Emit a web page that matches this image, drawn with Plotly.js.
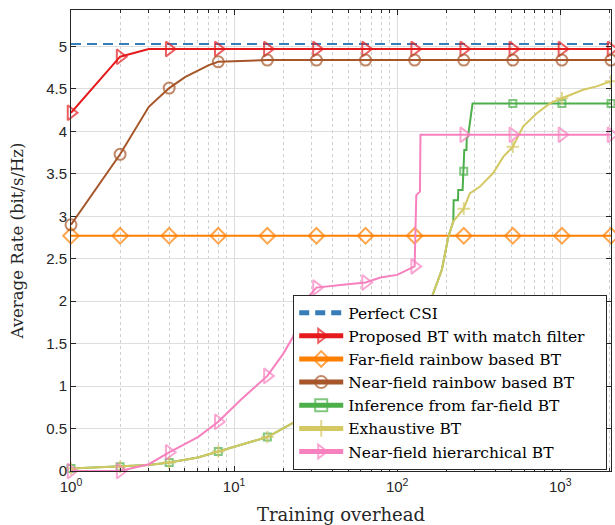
<!DOCTYPE html>
<html>
<head>
<meta charset="utf-8">
<script src="https://cdn.plot.ly/plotly-3.0.1.min.js"></script>
<style>html,body{margin:0;padding:0;background:#fff;}</style>
</head>
<body>
<div id="chart" style="width:615px;height:525px;"></div>
<script>
// ---- data ----
const csiX = [1, 2048];
const csiY = [5.03, 5.03];

const propX = [1, 2, 3, 4, 8, 16, 32, 64, 128, 256, 512, 1024, 2048];
const propY = [4.22, 4.88, 4.97, 4.97, 4.97, 4.97, 4.97, 4.97, 4.97, 4.97, 4.97, 4.97, 4.97];

const farX = [1, 2, 4, 8, 16, 32, 64, 128, 256, 512, 1024, 2048];
const farY = [2.77, 2.77, 2.77, 2.77, 2.77, 2.77, 2.77, 2.77, 2.77, 2.77, 2.77, 2.77];

const nearX = [1, 2, 3, 4, 5, 6, 7, 8, 16, 32, 64, 128, 256, 512, 1024, 2048];
const nearY = [2.90, 3.73, 4.29, 4.51, 4.64, 4.72, 4.78, 4.82, 4.84, 4.84, 4.84, 4.84, 4.84, 4.84, 4.84, 4.84];

const infX = [1, 2, 3, 4, 6, 8, 10, 12, 16, 20, 23, 32, 45, 64, 90, 128, 159, 188, 206, 221, 222, 236, 237, 252, 256, 258, 266, 267, 272, 286, 290, 512, 1024, 2048];
const infY = [0.03, 0.05, 0.07, 0.10, 0.16, 0.23, 0.29, 0.33, 0.40, 0.50, 0.57, 0.72, 0.92, 1.15, 1.45, 1.78, 1.99, 2.37, 2.76, 2.94, 3.19, 3.19, 3.31, 3.31, 3.53, 3.78, 3.78, 3.92, 3.94, 4.30, 4.33, 4.33, 4.33, 4.33];

const exX = [1, 2, 3, 4, 6, 8, 10, 12, 16, 20, 23, 32, 45, 64, 90, 128, 159, 188, 206, 221, 256, 279, 322, 388, 447, 512, 593, 716, 864, 1024, 1384, 1672, 2048];
const exY = [0.03, 0.05, 0.07, 0.10, 0.16, 0.23, 0.29, 0.33, 0.40, 0.50, 0.57, 0.72, 0.92, 1.15, 1.45, 1.78, 1.99, 2.37, 2.76, 2.94, 3.09, 3.27, 3.35, 3.51, 3.70, 3.82, 4.06, 4.21, 4.33, 4.39, 4.49, 4.53, 4.59];

const hierX = [1, 2, 3, 4, 6, 8, 11, 16, 20, 23, 27, 32, 45, 64, 79, 100, 128, 129, 131, 138, 139, 256, 512, 1024, 2048];
const hierY = [0.00, 0.00, 0.08, 0.22, 0.40, 0.58, 0.84, 1.12, 1.38, 1.58, 2.00, 2.16, 2.19, 2.22, 2.28, 2.31, 2.41, 2.62, 3.25, 3.29, 3.96, 3.96, 3.96, 3.96, 3.96];

const seriesNames = ['Perfect CSI', 'Proposed BT with match filter', 'Far-field rainbow based BT',
  'Near-field rainbow based BT', 'Inference from far-field BT', 'Exhaustive BT', 'Near-field hierarchical BT'];

const xTickVals = [1, 10, 100, 1000];
const xTickText = ['10<sup>0</sup>', '10<sup>1</sup>', '10<sup>2</sup>', '10<sup>3</sup>'];

// ---- helpers ----
function isPow2(v) { return v >= 1 && Math.abs(Math.log2(v) - Math.round(Math.log2(v))) < 1e-9; }
function sizes(xs, s) { return xs.map(v => isPow2(v) ? s : 0); }
function mk(name, xs, ys, color, symbol, msize) {
  return {
    type: 'scatter', mode: 'lines+markers', name: name, x: xs, y: ys, cliponaxis: false,
    line: {color: color, width: 2},
    marker: {symbol: symbol, size: sizes(xs, msize), color: color, line: {color: color, width: 2}}
  };
}

const minorVals = [];
[1, 10, 100, 1000].forEach(d => { for (let k = 2; k <= 9; k++) { if (d * k <= 2048) minorVals.push(d * k); } });

const traces = [
  {type: 'scatter', mode: 'lines', name: seriesNames[0], x: csiX, y: csiY, cliponaxis: false,
   line: {color: '#377eb8', width: 2, dash: '10px,6px'}},
  mk(seriesNames[1], propX, propY, '#e41a1c', 'triangle-right-open', 13),
  mk(seriesNames[2], farX, farY, '#ff7f00', 'diamond-open', 12),
  mk(seriesNames[3], nearX, nearY, '#a65628', 'circle-open', 11),
  mk(seriesNames[4], infX, infY, '#4daf4a', 'square-open', 7),
  mk(seriesNames[5], exX, exY, '#d4c863', 'cross-thin-open', 9),
  mk(seriesNames[6], hierX, hierY, '#f781bf', 'triangle-right-open', 13)
];

const axisCommon = {
  showline: true, linecolor: '#262626', linewidth: 1, mirror: 'ticks',
  ticks: 'inside', ticklen: 5, tickcolor: '#262626', tickwidth: 1,
  tickfont: {family: 'Liberation Sans, Arial, sans-serif', size: 15, color: '#262626'},
  zeroline: false
};

const layout = {
  width: 615, height: 525,
  margin: {l: 71, r: 4, t: 10, b: 54},
  paper_bgcolor: '#ffffff', plot_bgcolor: '#ffffff',
  showlegend: true,
  xaxis: Object.assign({}, axisCommon, {
    type: 'log', range: [0, Math.log10(2048)],
    tickmode: 'array', tickvals: xTickVals, ticktext: xTickText,
    ticklabelstandoff: 2,
    showgrid: true, gridcolor: '#dedede', gridwidth: 1,
    minor: {tickmode: 'array', tickvals: minorVals, ticks: 'inside', ticklen: 3, tickcolor: '#262626',
            showgrid: true, gridcolor: '#cfcfcf', griddash: 'dot', gridwidth: 1},
    title: {text: 'Training overhead', font: {family: 'DejaVu Serif', size: 18, color: '#262626'}, standoff: 14}
  }),
  yaxis: Object.assign({}, axisCommon, {
    range: [0, 5.43], tick0: 0, dtick: 0.5,
    showgrid: true, gridcolor: '#dedede', gridwidth: 1,
    title: {text: 'Average Rate (bit/s/Hz)', font: {family: 'DejaVu Serif', size: 16.5, color: '#262626'}, standoff: 18}
  }),
  legend: {
    orientation: 'h',
    x: 0.993, y: 0.002, xanchor: 'right', yanchor: 'bottom',
    bgcolor: '#ffffff', bordercolor: '#262626', borderwidth: 1,
    font: {family: 'DejaVu Serif', size: 15.5, color: '#000000'},
    itemsizing: 'constant', itemwidth: 44, tracegroupgap: 0,
    entrywidthmode: 'pixels', entrywidth: 253
  }
};

Plotly.newPlot('chart', traces, layout, {displayModeBar: false, staticPlot: true});
</script>
</body>
</html>
